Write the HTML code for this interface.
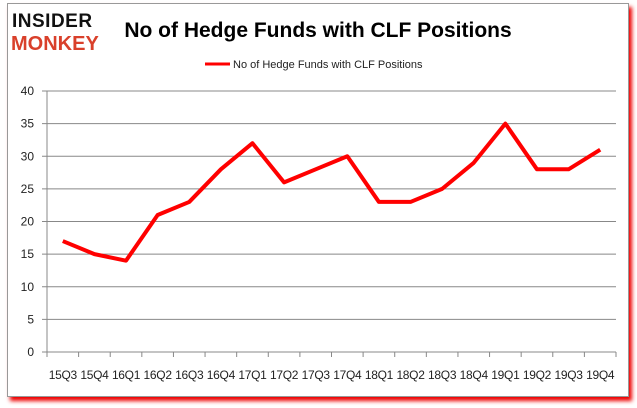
<!DOCTYPE html>
<html><head><meta charset="utf-8"><style>
body{margin:0;width:637px;height:408px;background:#fff;overflow:hidden;font-family:"Liberation Sans",sans-serif}
#frame{position:absolute;left:7px;top:3px;width:620px;height:392px;border:1px solid #999;background:#fff;box-shadow:3px 4px 4px #e00}
</style></head><body>
<div id="frame"></div>
<svg width="637" height="408" style="position:absolute;left:0;top:0">
<g>
<text x="12" y="27" font-size="19" font-weight="900" fill="#111" font-family="Liberation Sans" letter-spacing="0.5">INSIDER</text>
<text x="11" y="50" font-size="20" font-weight="900" fill="#d9402b" font-family="Liberation Sans">MONKEY</text>
</g>
<text x="318" y="37" text-anchor="middle" font-size="21" font-weight="bold" fill="#000">No of Hedge Funds with CLF Positions</text>
<line x1="205" y1="64" x2="230" y2="64" stroke="#f00" stroke-width="3"/>
<text x="233" y="68" font-size="11" fill="#222">No of Hedge Funds with CLF Positions</text>
<g id="axes"></g>
</svg>
<script>
const categories=["15Q3","15Q4","16Q1","16Q2","16Q3","16Q4","17Q1","17Q2","17Q3","17Q4","18Q1","18Q2","18Q3","18Q4","19Q1","19Q2","19Q3","19Q4"];
const values=[17,15,14,21,23,28,32,26,28,30,23,23,25,29,35,28,28,31];
const yTicks=[0,5,10,15,20,25,30,35,40];
const NS="http://www.w3.org/2000/svg";
const g=document.getElementById('axes');
const L=47,R=616,T=91,B=352,yMax=40;
const step=(R-L)/categories.length;
const xs=i=>L+step*(i+0.5);
const ys=v=>B-(v/yMax)*(B-T);
function mk(t,a){const e=document.createElementNS(NS,t);for(const k in a)e.setAttribute(k,a[k]);g.appendChild(e);return e;}
yTicks.forEach(v=>{
 const ln=mk('line',{x1:L-5,x2:R,y1:ys(v),y2:ys(v),stroke:'#888','stroke-width':1});
 
 
 const t=mk('text',{x:L-13,y:ys(v)+4,'text-anchor':'end','font-size':12,fill:'#222'});
 t.textContent=v;
 
 
});
const ax=mk('line',{x1:L,x2:L,y1:T,y2:B,stroke:'#888'});


for(let i=0;i<=categories.length;i++){
 const tk=mk('line',{x1:L+step*i,x2:L+step*i,y1:B,y2:B+5,stroke:'#888'});
 
 
}
categories.forEach((c,i)=>{
 const t=mk('text',{x:xs(i),y:379,'text-anchor':'middle','font-size':12,fill:'#222','letter-spacing':'-0.3'});
 t.textContent=c;
 
 
});
const p=mk('polyline',{points:values.map((v,i)=>xs(i)+','+ys(v)).join(' '),fill:'none',stroke:'#f00','stroke-width':4,'stroke-linejoin':'round'});


</script>
</body></html>
